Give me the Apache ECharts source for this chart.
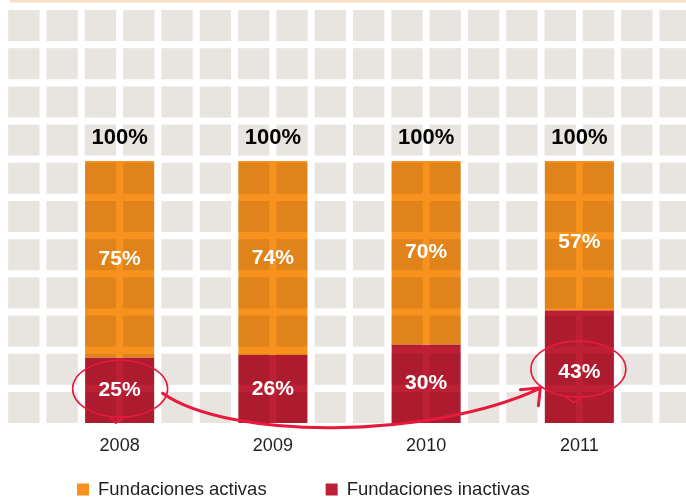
<!DOCTYPE html>
<html>
<head>
<meta charset="utf-8">
<script src="https://cdn.jsdelivr.net/npm/echarts@6/dist/echarts.min.js"></script>
<style>
  html, body { margin: 0; padding: 0; background: #fff; }
  #chart { width: 686px; height: 498px; }
</style>
</head>
<body>
<div id="chart"></div>
<script>
const years = ["2008", "2009", "2010", "2011"];
const activas = [75, 74, 70, 57];
const inactivas = [25, 26, 30, 43];
const totals = [100, 100, 100, 100];

const FONT = "Liberation Sans, Arial, Helvetica, sans-serif";
const ORANGE = "#F7921E";
const CRIMSON = "#BD1F34";
const MARK = "#E8193C";
const W = 686, H = 498;
const grid = { left: 43, right: 30, top: 161, bottom: 75 };

let chart = echarts.init(document.getElementById("chart"), null, { renderer: "canvas" });

chart.setOption({
  backgroundColor: "#fff",
  animation: false,
  grid: grid,
  legend: {
    data: ["Fundaciones activas", "Fundaciones inactivas"],
    left: 72,
    top: 475,
    icon: "rect",
    itemWidth: 12,
    itemHeight: 12,
    itemGap: 59,
    selectedMode: false,
    textStyle: { fontFamily: FONT, fontSize: 18.5, color: "#231F20", padding: [0, 0, 0, 4] }
  },
  xAxis: {
    type: "category",
    data: years,
    axisLine: { show: false },
    axisTick: { show: false },
    axisLabel: { fontFamily: FONT, fontSize: 18, color: "#231F20", margin: 14 }
  },
  yAxis: { type: "value", min: 0, max: 100, show: false },
  series: [
    {
      name: "Fundaciones inactivas",
      type: "bar",
      stack: "bars",
      barWidth: 69,
      barGap: "-100%",
      z: 2,
      silent: true,
      itemStyle: { color: CRIMSON },
      data: inactivas
    },
    {
      name: "Fundaciones activas",
      type: "bar",
      stack: "bars",
      barWidth: 69,
      z: 2,
      silent: true,
      itemStyle: { color: ORANGE },
      data: activas
    },
    // labels drawn above the tile overlay
    {
      name: "lab-inactivas",
      type: "bar",
      stack: "labels",
      barWidth: 69,
      z: 5,
      silent: true,
      itemStyle: { color: "rgba(0,0,0,0)" },
      label: { show: true, position: "inside", formatter: "{c}%", color: "#fff", fontFamily: FONT, fontWeight: "bold", fontSize: 21 },
      data: inactivas.map((v, i) => i === 3 ? { value: v, label: { offset: [0, 6] } } : v)
    },
    {
      name: "lab-activas",
      type: "bar",
      stack: "labels",
      barWidth: 69,
      z: 5,
      silent: true,
      itemStyle: { color: "rgba(0,0,0,0)" },
      label: { show: true, position: "inside", formatter: "{c}%", color: "#fff", fontFamily: FONT, fontWeight: "bold", fontSize: 21 },
      data: activas.map((v, i) => i === 3 ? { value: v, label: { offset: [0, 7] } } : v)
    },
    {
      name: "total",
      type: "scatter",
      symbolSize: 0,
      z: 5,
      silent: true,
      itemStyle: { opacity: 1 },
      label: { show: true, position: "top", distance: 12, formatter: "{c}%", color: "#000", fontFamily: FONT, fontWeight: "bold", fontSize: 22 },
      data: totals
    }
  ]
});

// background tiles, multiplied over the bars so the grid shows through
let tiles = [];
let catW = (W - grid.left - grid.right) / years.length;
let pitch = catW / 4;
let firstGap = grid.left + catW / 2;
let bottom = H - grid.bottom;
let k = 0;
for (let c = -3; firstGap + 3.5 + pitch * c < W; c++) {
  for (let r = 0; r < 11; r++) {
    tiles.push({
      type: "rect",
      id: "tile" + (k++),
      silent: true,
      z: 3,
      shape: { x: firstGap + 3.5 + pitch * c, y: bottom - 31 - 38.2 * r, width: pitch - 7, height: 31 },
      style: { fill: "#E8E4E0", blend: "multiply" }
    });
  }
}
tiles.push({
  type: "rect", id: "topline", silent: true, z: 3,
  shape: { x: 10, y: 0, width: W - 10, height: 2.5 },
  style: { fill: "#FDDCC4" }
});

// hand-drawn annotations anchored to the 2008 and 2011 bars
let p1 = chart.convertToPixel({ gridIndex: 0 }, [0, inactivas[0] / 2]);
let p2 = chart.convertToPixel({ gridIndex: 0 }, [3, inactivas[3] / 2]);
let line = { stroke: MARK, fill: "none", lineCap: "round", lineJoin: "round" };
let notes = [
  {
    type: "ellipse", id: "e1", silent: true, z: 10,
    shape: { cx: p1[0] + 0.5, cy: p1[1] - 1.5, rx: 47.5, ry: 28.5 },
    style: Object.assign({}, line, { lineWidth: 1.6 })
  },
  {
    type: "polyline", id: "t1", silent: true, z: 10,
    shape: { points: [[p1[0] - 10, p1[1] + 26], [p1[0] - 4, p1[1] + 33], [p1[0] + 6, p1[1] + 26]] },
    style: Object.assign({}, line, { lineWidth: 1.6 })
  },
  {
    type: "ellipse", id: "e2", silent: true, z: 10,
    shape: { cx: p2[0] - 1, cy: p2[1] + 2.5, rx: 47.5, ry: 28 },
    style: Object.assign({}, line, { lineWidth: 1.6 })
  },
  {
    type: "polyline", id: "t2", silent: true, z: 10,
    shape: { points: [[p2[0] - 14, p2[1] + 30], [p2[0] - 6, p2[1] + 36], [p2[0] + 4, p2[1] + 30]] },
    style: Object.assign({}, line, { lineWidth: 1.6 })
  },
  {
    type: "bezierCurve", id: "arc", silent: true, z: 10,
    shape: {
      x1: p1[0] + 43, y1: p1[1] + 3,
      cpx1: p1[0] + 110, cpy1: p1[1] + 50,
      cpx2: p2[0] - 150, cpy2: p2[1] + 73,
      x2: p2[0] - 40, y2: p2[1] + 22
    },
    style: Object.assign({}, line, { lineWidth: 3 })
  },
  {
    type: "polyline", id: "head", silent: true, z: 10,
    shape: { points: [[p2[0] - 59, p2[1] + 23], [p2[0] - 39, p2[1] + 21], [p2[0] - 41, p2[1] + 39]] },
    style: Object.assign({}, line, { lineWidth: 3 })
  }
];

chart.setOption({ graphic: tiles.concat(notes) });
</script>
</body>
</html>
